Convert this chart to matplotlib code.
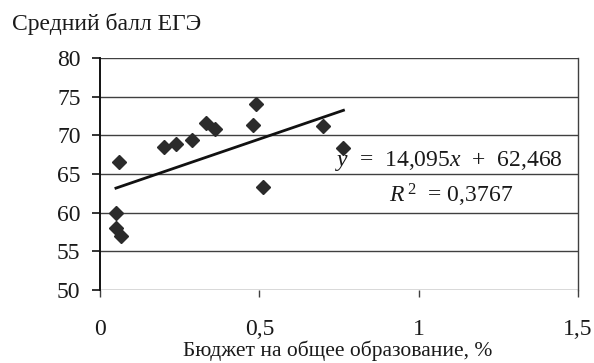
import numpy as np
import matplotlib
matplotlib.use("Agg")
import matplotlib.pyplot as plt

# Budget share for general education (%) and mean USE score
budget_share = [0.06, 0.05, 0.05, 0.066, 0.20, 0.24, 0.29, 0.333, 0.36, 0.48, 0.49, 0.51, 0.70, 0.764]
mean_score = [66.5, 59.9, 58.0, 57.0, 68.45, 68.9, 69.4, 71.6, 70.8, 71.4, 74.05, 63.35, 71.2, 68.3]

# Linear trend as reported
slope = 14.095
intercept = 62.468
r_squared = 0.3767

x_ticks = [0, 0.5, 1, 1.5]
x_tick_labels = ["0", "0,5", "1", "1,5"]
y_ticks = [50, 55, 60, 65, 70, 75, 80]

plt.rcParams["font.family"] = ["Liberation Serif", "DejaVu Serif"]
plt.rcParams["mathtext.fontset"] = "custom"
plt.rcParams["mathtext.rm"] = "Liberation Serif"
plt.rcParams["mathtext.it"] = "Liberation Serif:italic"

text_color = "#1a1a1a"
W, H = 594, 363
fig = plt.figure(figsize=(W / 100, H / 100), dpi=100)
ax = fig.add_axes([100 / W, 1 - 290 / H, 478 / W, 232 / H])

ax.set_xlim(0, 1.5)
ax.set_ylim(50, 80)
ax.set_xticks(x_ticks)
ax.set_xticklabels(x_tick_labels)
ax.set_yticks(y_ticks)

ax.grid(axis="y", color="#404040", linewidth=1.0)
ax.set_axisbelow(True)

for side in ["top", "bottom"]:
    ax.spines[side].set_visible(False)
ax.spines["left"].set_color("#111111")
ax.spines["left"].set_linewidth(1.4)
ax.spines["right"].set_color("#404040")
ax.spines["right"].set_linewidth(1.0)

ax.tick_params(axis="y", direction="out", length=6, width=1.2, color="#111111",
               labelsize=17, labelcolor=text_color, pad=8)
ax.tick_params(axis="x", direction="out", length=5, width=1.0, color="#404040",
               labelsize=17, labelcolor=text_color, pad=16)

# Scatter points
ax.plot(budget_share, mean_score, linestyle="none", marker="D", markersize=6.8,
        color="#2b2b2b", zorder=3)

# Trend line across the data range
xs = np.array([min(budget_share), max(budget_share)])
ax.plot(xs, slope * xs + intercept, color="#111111", linewidth=2.0, zorder=4)

ax.text(0.969, 0.557, "$y$  =  14,095$x$  +  62,468", transform=ax.transAxes,
        ha="right", va="center", fontsize=17, color=text_color)
ax.text(0.864, 0.409, "$R^{\\,2}$  = 0,3767", transform=ax.transAxes,
        ha="right", va="center", fontsize=17, color=text_color)

fig.text(12 / W, 1 - 24 / H, "Средний балл ЕГЭ", ha="left", va="center",
         fontsize=17, color=text_color)
fig.text(338 / W, 1 - 351 / H, "Бюджет на общее образование, %", ha="center",
         va="center", fontsize=15.5, color=text_color)

fig.savefig("out.png", dpi=100, facecolor="white")
